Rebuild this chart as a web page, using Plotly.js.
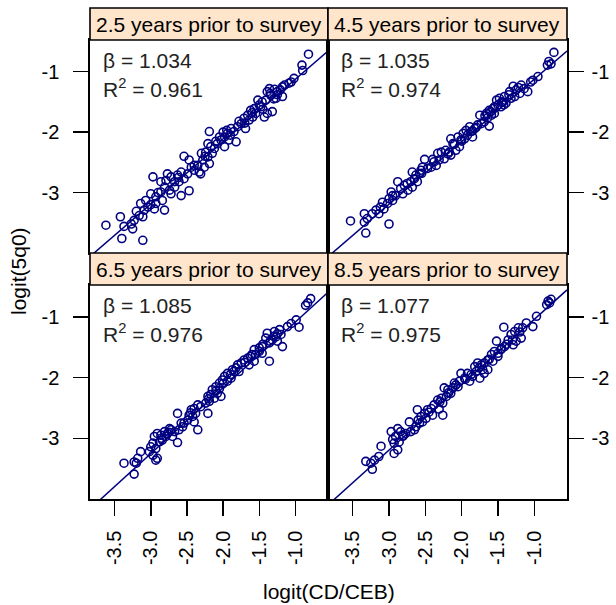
<!DOCTYPE html>
<html>
<head>
<meta charset="utf-8">
<script src="https://cdn.plot.ly/plotly-3.0.1.min.js"></script>
<style>html,body{margin:0;padding:0;background:#fff;}#chart{width:616px;height:605px;}</style>
</head>
<body>
<div id="chart"></div>
<script>
// ---- data ----
const stripLabels = ["2.5 years prior to survey", "4.5 years prior to survey", "6.5 years prior to survey", "8.5 years prior to survey"];
const betas = ["1.034", "1.035", "1.085", "1.077"];
const r2s = ["0.961", "0.974", "0.976", "0.975"];
const slopes = [1.034, 1.035, 1.085, 1.077];
const intercepts = [-0.088, -0.087, 0.002, 0.037];

const xTickVals = [-3.5, -3.0, -2.5, -2.0, -1.5, -1.0];
const xTickText = ["-3.5", "-3.0", "-2.5", "-2.0", "-1.5", "-1.0"];
const yTickVals = [-1, -2, -3];
const yTickText = ["-1", "-2", "-3"];

const x1 = [-0.82,-0.91,-0.90,-1.02,-1.06,-1.09,-1.18,-1.21,-1.25,-1.29,
  -1.36,-1.39,-1.34,-1.27,-1.18,-1.41,-1.46,-1.52,-1.48,-1.57,
  -1.62,-1.55,-1.66,-1.71,-1.64,-1.59,-1.39,-1.32,-1.43,-1.75,
  -1.80,-1.69,-1.85,-1.89,-1.94,-1.98,-1.92,-1.82,-2.03,-2.08,
  -1.98,-2.12,-2.17,-2.19,-2.21,-2.15,-2.24,-2.21,-2.28,-2.19,
  -2.26,-2.35,-2.33,-2.31,-2.40,-2.47,-2.54,-2.44,-2.58,-2.63,
  -2.54,-2.49,-2.61,-2.67,-2.72,-2.77,-2.79,-2.81,-2.86,-2.97,
  -2.86,-2.74,-2.67,-2.58,-2.47,-2.72,-2.84,-2.93,-3.00,-3.07,
  -3.14,-3.04,-2.93,-2.81,-2.95,-3.09,-3.20,-3.16,-3.23,-3.11,
  -3.27,-3.37,-3.25,-3.42,-3.62,-3.40,-3.11,
  -1.50,-1.60,-1.45,-1.78,-1.90,-2.05,-2.25,-2.10,-1.70,-1.35,
  -1.25,-2.40,-2.00,-1.95,-1.30,-1.15,-2.30,-2.62,-2.90,-3.00];
const y1 = [-0.71,-0.89,-0.98,-1.11,-1.17,-1.19,-1.25,-1.30,-1.33,-1.29,
  -1.28,-1.33,-1.39,-1.44,-1.41,-1.47,-1.50,-1.47,-1.58,-1.61,
  -1.64,-1.69,-1.72,-1.77,-1.80,-1.75,-1.69,-1.66,-1.75,-1.86,
  -1.91,-1.94,-1.99,-1.94,-2.02,-2.08,-2.13,-2.16,-2.13,-2.19,
  -2.24,-2.27,-2.24,-1.99,-2.19,-2.35,-2.33,-2.41,-2.46,-2.52,
  -2.58,-2.55,-2.66,-2.69,-2.63,-2.46,-2.40,-2.58,-2.66,-2.71,
  -2.77,-2.69,-2.82,-2.82,-2.74,-2.69,-2.80,-2.91,-2.82,-2.74,
  -2.99,-2.96,-2.91,-3.05,-2.97,-3.02,-3.13,-3.07,-3.02,-3.13,
  -3.18,-3.24,-3.18,-3.29,-3.27,-3.29,-3.31,-3.38,-3.46,-3.40,
  -3.52,-3.56,-3.60,-3.40,-3.54,-3.76,-3.79,
  -1.55,-1.68,-1.62,-1.82,-2.05,-2.08,-2.40,-2.15,-1.85,-1.36,
  -1.38,-2.55,-2.00,-1.97,-1.45,-1.22,-2.35,-2.75,-3.00,-3.20];

const x2 = [-0.73,-0.80,-0.77,-0.82,-0.95,-1.02,-1.05,-1.18,-1.22,-1.29,
  -1.14,-1.09,-1.20,-1.27,-1.34,-1.32,-1.41,-1.48,-1.43,-1.52,
  -1.50,-1.46,-1.57,-1.62,-1.55,-1.42,-1.39,-1.59,-1.64,-1.66,
  -1.75,-1.69,-1.73,-1.62,-1.78,-1.82,-1.89,-1.87,-1.94,-1.92,
  -1.85,-1.96,-2.01,-2.05,-2.15,-2.12,-2.03,-2.08,-2.17,-2.19,
  -2.28,-2.33,-2.24,-2.15,-2.31,-2.38,-2.35,-2.42,-2.47,-2.54,
  -2.51,-2.56,-2.58,-2.63,-2.68,-2.65,-2.61,-2.70,-2.68,-2.79,
  -2.74,-2.84,-2.88,-2.81,-2.91,-2.97,-3.00,-2.95,-3.02,-3.09,
  -3.07,-3.12,-3.18,-3.14,-3.23,-3.34,-3.30,-3.34,-3.53,-3.32,
  -3.00,
  -1.55,-1.45,-1.68,-1.80,-1.98,-2.10,-2.22,-2.40,-2.55,-1.25,
  -1.35,-2.75,-2.95,-1.60,-2.00,-1.85];
const y2 = [-0.68,-0.83,-0.87,-0.89,-1.08,-1.14,-1.17,-1.22,-1.26,-1.24,
  -1.28,-1.33,-1.36,-1.41,-1.33,-1.44,-1.41,-1.44,-1.50,-1.47,
  -1.55,-1.58,-1.61,-1.64,-1.69,-1.55,-1.52,-1.72,-1.76,-1.69,
  -1.72,-1.83,-1.86,-1.90,-1.88,-1.94,-1.91,-1.99,-1.97,-2.05,
  -2.08,-2.11,-2.13,-2.08,-2.11,-2.19,-2.24,-2.30,-2.33,-2.36,
  -2.33,-2.35,-2.44,-2.38,-2.46,-2.49,-2.55,-2.58,-2.60,-2.58,
  -2.45,-2.63,-2.69,-2.71,-2.66,-2.77,-2.82,-2.82,-2.91,-2.88,
  -2.96,-2.93,-2.82,-3.02,-3.05,-2.99,-3.10,-3.13,-3.18,-3.16,
  -3.27,-3.24,-3.29,-3.35,-3.35,-3.35,-3.43,-3.49,-3.47,-3.67,
  -3.52,
  -1.58,-1.50,-1.73,-1.92,-2.02,-2.20,-2.30,-2.45,-2.68,-1.30,
  -1.38,-2.85,-3.05,-1.66,-2.15,-1.98];

const x3 = [-0.79,-0.83,-0.86,-0.99,-0.95,-1.06,-1.11,-1.22,-1.29,-1.39,
  -1.20,-1.27,-1.32,-1.18,-1.36,-1.25,-1.41,-1.46,-1.50,-1.57,
  -1.55,-1.46,-1.62,-1.66,-1.71,-1.64,-1.57,-1.75,-1.80,-1.82,
  -1.78,-1.36,-1.87,-1.94,-1.98,-1.89,-2.01,-1.94,-2.05,-2.10,
  -2.15,-2.08,-2.17,-2.03,-2.12,-2.21,-2.19,-2.24,-2.21,-2.31,
  -2.35,-2.40,-2.44,-2.38,-2.42,-2.47,-2.49,-2.40,-2.54,-2.58,
  -2.35,-2.56,-2.63,-2.61,-2.67,-2.72,-2.74,-2.77,-2.81,-2.86,
  -2.91,-2.79,-2.70,-2.63,-2.84,-2.95,-2.97,-2.88,-2.93,-3.00,
  -3.02,-2.97,-2.91,-2.93,-3.14,-3.18,-3.23,-3.20,-3.37,-3.23,
  -1.50,-1.60,-1.45,-1.70,-1.90,-2.00,-2.10,-2.20,-1.30,-1.35,
  -1.85,-2.05,-2.45,-2.75,-2.85,-1.25];
const y3 = [-0.70,-0.77,-0.81,-1.05,-1.17,-1.11,-1.16,-1.21,-1.24,-1.27,
  -1.29,-1.33,-1.38,-1.49,-1.43,-1.40,-1.35,-1.49,-1.51,-1.54,
  -1.62,-1.60,-1.65,-1.68,-1.71,-1.79,-1.73,-1.76,-1.79,-1.84,
  -1.90,-1.73,-1.87,-1.93,-1.98,-2.01,-2.04,-2.06,-2.09,-2.15,
  -2.20,-2.26,-2.28,-2.31,-2.34,-2.31,-2.39,-2.42,-2.59,-2.48,
  -2.45,-2.51,-2.53,-2.59,-2.64,-2.62,-2.70,-2.73,-2.75,-2.75,
  -2.86,-2.81,-2.59,-2.86,-2.89,-2.86,-2.84,-2.92,-2.89,-2.95,
  -2.92,-2.97,-2.97,-3.07,-3.03,-2.97,-3.08,-3.06,-3.17,-3.14,
  -3.22,-3.28,-3.33,-3.36,-3.22,-3.33,-3.39,-3.41,-3.41,-3.59,
  -1.57,-1.62,-1.45,-1.75,-1.95,-2.10,-2.22,-2.35,-1.32,-1.40,
  -1.90,-2.18,-2.58,-2.90,-3.00,-1.28];

const x4 = [-0.77,-0.81,-0.79,-0.83,-0.97,-1.02,-1.11,-1.16,-1.22,-1.27,
  -1.42,-1.32,-1.18,-1.25,-1.36,-1.29,-1.41,-1.52,-1.46,-1.55,
  -1.50,-1.59,-1.64,-1.57,-1.69,-1.73,-1.78,-1.82,-1.71,-1.64,
  -1.80,-1.69,-1.75,-1.87,-1.92,-2.01,-1.96,-1.89,-2.03,-2.10,
  -2.05,-2.12,-2.19,-2.24,-2.15,-2.21,-2.28,-2.33,-2.26,-2.38,
  -2.42,-2.31,-2.47,-2.51,-2.40,-2.26,-2.56,-2.61,-2.49,-2.54,
  -2.58,-2.63,-2.72,-2.65,-2.70,-2.77,-2.84,-2.88,-2.97,-2.81,
  -2.91,-2.86,-2.93,-2.88,-2.93,-3.11,-3.14,-3.20,-3.25,-3.32,
  -3.23,
  -1.50,-1.62,-1.45,-1.76,-1.95,-2.08,-2.18,-2.30,-1.30,-1.38,
  -1.85,-2.45,-2.60,-2.80,-2.95,-1.20];
const y4 = [-0.71,-0.74,-0.77,-0.80,-0.99,-1.16,-1.10,-1.18,-1.18,-1.24,
  -1.17,-1.29,-1.35,-1.40,-1.38,-1.46,-1.49,-1.40,-1.54,-1.57,
  -1.65,-1.62,-1.71,-1.73,-1.76,-1.79,-1.76,-1.82,-1.87,-1.87,
  -1.90,-1.93,-2.01,-1.95,-1.93,-1.93,-2.01,-2.06,-2.06,-2.09,
  -2.15,-2.17,-2.20,-2.17,-2.26,-2.31,-2.34,-2.37,-2.42,-2.45,
  -2.51,-2.52,-2.53,-2.59,-2.62,-2.62,-2.64,-2.53,-2.67,-2.73,
  -2.75,-2.81,-2.73,-2.86,-2.89,-2.92,-2.89,-2.84,-2.89,-2.97,
  -2.97,-3.06,-3.08,-3.19,-3.25,-3.13,-3.30,-3.36,-3.41,-3.38,
  -3.51,
  -1.60,-1.70,-1.52,-1.84,-2.03,-2.12,-2.25,-2.40,-1.38,-1.45,
  -1.98,-2.57,-2.70,-2.95,-3.02,-1.25];

const xs = [x1, x2, x3, x4];
const ys = [y1, y2, y3, y4];

// ---- layout geometry (pixels -> paper) ----
const W = 616, H = 605;
const px = v => v / W;
const py = v => (H - v) / H;
const colX = [[px(90), px(328)], [px(328), px(567)]];
const rowY = [[py(253), py(40)], [py(499), py(285)]];
const stripY = [[py(40), py(8)], [py(285), py(253)]];
const xRange = [-3.84, -0.55];
const yRange = [-4.0, -0.475];

const NAVY = "#000080";
const FONT = "Liberation Sans, Arial, Helvetica, sans-serif";

const traces = [];
const layout = {
  width: W, height: H,
  margin: {l: 0, r: 0, t: 0, b: 0, pad: 0},
  paper_bgcolor: "#ffffff", plot_bgcolor: "#ffffff",
  showlegend: false,
  font: {family: FONT, size: 20, color: "#000"},
  annotations: [], shapes: []
};

for (let i = 0; i < 4; i++) {
  const row = Math.floor(i / 2), col = i % 2;
  const sfx = i === 0 ? "" : String(i + 1);
  const xa = "x" + sfx, ya = "y" + sfx;
  traces.push({
    type: "scatter", mode: "markers", x: xs[i], y: ys[i], xaxis: xa, yaxis: ya,
    marker: {symbol: "circle-open", size: 8, color: NAVY, line: {width: 1.6, color: NAVY}},
    hoverinfo: "x+y"
  });
  traces.push({
    type: "scatter", mode: "lines", xaxis: xa, yaxis: ya,
    x: xRange, y: xRange.map(v => intercepts[i] + slopes[i] * v),
    line: {color: NAVY, width: 1.5}, hoverinfo: "skip"
  });
  const bottom = row === 1;
  layout["xaxis" + sfx] = {
    domain: colX[col], range: xRange, anchor: ya,
    showgrid: false, zeroline: false, showline: true, mirror: true,
    linecolor: "#000", linewidth: 1.6,
    ticks: bottom ? "outside" : "", ticklen: 15, tickwidth: 1.5, tickcolor: "#000",
    showticklabels: bottom, tickvals: xTickVals, ticktext: xTickText,
    tickangle: -90, tickfont: {size: 20, family: FONT, color: "#000"},
    ticklabelstandoff: 7
  };
  layout["yaxis" + sfx] = {
    domain: rowY[row], range: yRange, anchor: xa,
    side: col === 0 ? "left" : "right",
    showgrid: false, zeroline: false, showline: true, mirror: true,
    linecolor: "#000", linewidth: 1.6,
    ticks: "outside", ticklen: 15, tickwidth: 1.5, tickcolor: "#000",
    tickvals: yTickVals, ticktext: yTickText,
    tickfont: {size: 20, family: FONT, color: "#000"},
    ticklabelstandoff: col === 0 ? 10 : 4
  };
  // strip
  layout.shapes.push({
    type: "rect", xref: "paper", yref: "paper",
    x0: colX[col][0], x1: colX[col][1], y0: stripY[row][0], y1: stripY[row][1],
    fillcolor: "#ffe5cc", line: {color: "#000", width: 1.6}, layer: "above"
  });
  layout.annotations.push({
    xref: "paper", yref: "paper", showarrow: false,
    x: (colX[col][0] + colX[col][1]) / 2, y: (stripY[row][0] + stripY[row][1]) / 2,
    xanchor: "center", yanchor: "middle",
    text: stripLabels[i], font: {size: 21, family: FONT, color: "#000"}
  });
  // stats text
  layout.annotations.push({
    xref: xa + " domain", yref: ya + " domain", showarrow: false,
    x: 0.045, y: 0.905, xanchor: "left", yanchor: "middle",
    text: "β = " + betas[i], font: {size: 21, family: FONT, color: "#222"}
  });
  layout.annotations.push({
    xref: xa + " domain", yref: ya + " domain", showarrow: false,
    x: 0.045, y: 0.776, xanchor: "left", yanchor: "middle",
    text: "R<sup>2</sup> = " + r2s[i], font: {size: 21, family: FONT, color: "#222"}
  });
}

// axis titles
layout.annotations.push({
  xref: "paper", yref: "paper", showarrow: false,
  x: px(328.5), y: py(591), xanchor: "center", yanchor: "middle",
  text: "logit(CD/CEB)", font: {size: 21, family: FONT, color: "#000"}
});
layout.annotations.push({
  xref: "paper", yref: "paper", showarrow: false,
  x: px(18), y: py(271), xanchor: "center", yanchor: "middle", textangle: -90,
  text: "logit(5q0)", font: {size: 21, family: FONT, color: "#000"}
});

Plotly.newPlot("chart", traces, layout, {staticPlot: true, displayModeBar: false});
</script>
</body>
</html>
